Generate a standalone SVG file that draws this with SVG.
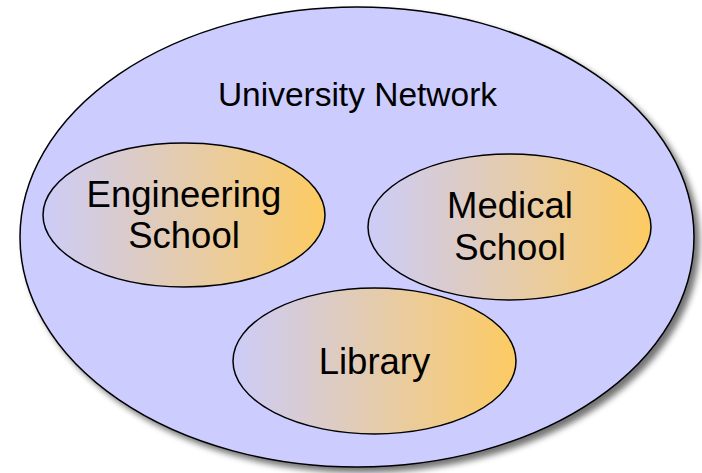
<svg xmlns="http://www.w3.org/2000/svg" width="702" height="473" viewBox="0 0 702 473">
  <defs>
    <linearGradient id="g" x1="0" y1="0" x2="1" y2="0">
      <stop offset="0" stop-color="#ccccf8"/>
      <stop offset="1" stop-color="#fdcb62"/>
    </linearGradient>
    <filter id="shadow" x="-5%" y="-5%" width="115%" height="115%">
      <feGaussianBlur in="SourceAlpha" stdDeviation="3"/>
      <feOffset dx="5" dy="5" result="b"/>
      <feComponentTransfer><feFuncA type="linear" slope="0.55"/></feComponentTransfer>
      <feMerge><feMergeNode/><feMergeNode in="SourceGraphic"/></feMerge>
    </filter>
  </defs>
  <style>
    .outer { fill: #ccccff; stroke: #000; stroke-width: 1.5; }
    .inner { fill: url(#g); stroke: #000; stroke-width: 1.5; }
    text { font-family: "Liberation Sans", Arial, sans-serif; fill: #000; text-anchor: middle; }
    .big { font-size: 36.5px; }
    .title { font-size: 33.5px; }
  </style>
  <rect width="702" height="473" fill="#fff"/>
  <g id="university-network">
    <ellipse class="outer" cx="357" cy="237" rx="337" ry="230" filter="url(#shadow)"/>
    <text class="title" x="357.5" y="106">University Network</text>
  </g>
  <g id="engineering-school">
    <ellipse class="inner" cx="184" cy="215" rx="141" ry="72"/>
    <text class="big" x="184" y="207">Engineering</text>
    <text class="big" x="184" y="248">School</text>
  </g>
  <g id="medical-school">
    <ellipse class="inner" cx="509.5" cy="227" rx="141.5" ry="73"/>
    <text class="big" x="510" y="218">Medical</text>
    <text class="big" x="510" y="260">School</text>
  </g>
  <g id="library">
    <ellipse class="inner" cx="374.5" cy="361" rx="141.5" ry="73"/>
    <text class="big" x="374.5" y="374">Library</text>
  </g>
  <g id="connectors"/>
</svg>
